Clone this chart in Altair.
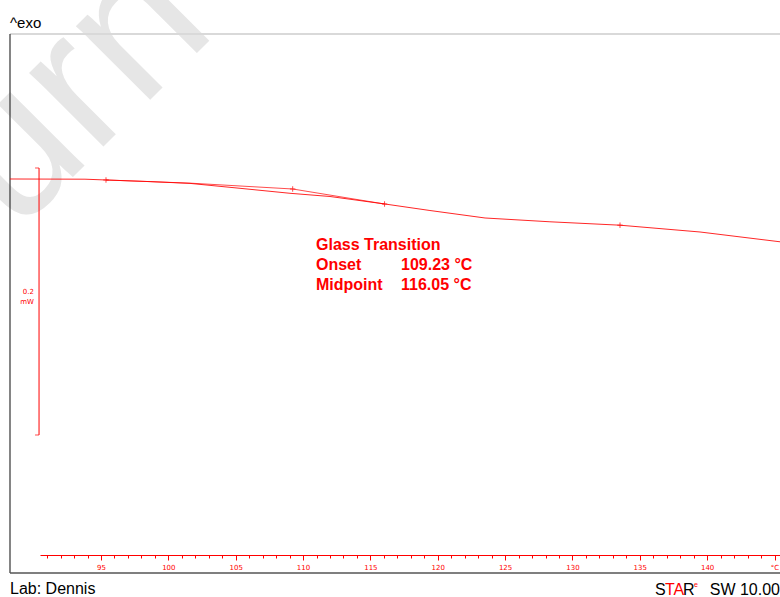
import altair as alt
import pandas as pd

# Measured DSC heating curve: temperature (°C) and heat flow (mW, exo up)
temp_c = [88.24, 93.81, 95.37, 98.64, 101.61, 105.32, 109.03, 112.00,
          116.08, 119.42, 123.51, 128.33, 133.53, 139.47, 145.41]
heat_flow_mw = [0.0, -0.00015, -0.00075, -0.00195, -0.0033, -0.00697, -0.01071, -0.01311,
                -0.01873, -0.0236, -0.02921, -0.03206, -0.03461, -0.0397, -0.04704]

# Extrapolated baseline up to the onset, then the inflectional tangent to the midpoint
tangent_temp_c = [95.37, 101.61, 109.23, 116.05]
tangent_mw = [-0.00075, -0.0031, -0.00749, -0.01873]

# Evaluation limits, onset and midpoint markers
marker_temp_c = [95.37, 109.23, 116.05, 133.53]
marker_mw = [-0.00075, -0.00749, -0.01873, -0.03461]

# Glass transition results
onset_c = 109.23
midpoint_c = 116.05

# Vertical scale bar
scale_bar_temp_c = 90.40
scale_bar_top_mw = 0.00824
scale_bar_span_mw = 0.2

# Temperature axis: a tick every degree, a label every five
tick_values = list(range(91, 146))
label_values = [95, 100, 105, 110, 115, 120, 125, 130, 135, 140, 145]
label_texts = ["95", "100", "105", "110", "115", "120", "125", "130", "135", "140", "°C"]

RED = "#ff0000"
FONT = "Liberation Sans"

curve_df = pd.DataFrame({"temp": temp_c, "mw": heat_flow_mw})
tangent_df = pd.DataFrame({"temp": tangent_temp_c, "mw": tangent_mw})
marker_df = pd.DataFrame({"temp": marker_temp_c, "mw": marker_mw})
bar_df = pd.DataFrame({
    "temp": [scale_bar_temp_c],
    "top": [scale_bar_top_mw],
    "bottom": [scale_bar_top_mw - scale_bar_span_mw],
})

label_expr = " : ".join(
    f"datum.value == {v} ? '{t}'" for v, t in zip(label_values, label_texts)
) + " : ''"

x_scale = alt.Scale(domain=[90.471, 145.408], nice=False, zero=False)
y_scale = alt.Scale(domain=[-0.28165, 0.10861], nice=False, zero=False)

x_axis = alt.Axis(
    values=tick_values,
    labelExpr=label_expr,
    title=None,
    grid=False,
    domainColor=RED,
    domainWidth=1,
    tickColor=RED,
    tickWidth=1,
    tickSize={"condition": {"test": "datum.value % 5 === 0", "value": 5}, "value": 3},
    labelColor=RED,
    labelFont="DejaVu Sans",
    labelFontSize=7,
    labelPadding=3,
    labelFlush=False,
    labelOverlap=False,
)


def xenc(field="temp"):
    return alt.X(f"{field}:Q", scale=x_scale, axis=x_axis)


def yenc(field="mw"):
    return alt.Y(f"{field}:Q", scale=y_scale, axis=None)


one_row = alt.Data(values=[{}])


def label(text, x, y, size, color="black", weight="normal", align="left",
          baseline="alphabetic", angle=0, font=FONT):
    props = dict(text=text, fontSize=size, color=color, fontWeight=weight,
                 align=align, baseline=baseline, font=font)
    if angle:
        props["angle"] = angle
    return alt.Chart(one_row).mark_text(**props).encode(
        x=alt.value(x), y=alt.value(y)
    )


# Watermark in the upper-left corner
watermark = label("urn", -24, 200, 198, color="#e6e6e6", angle=315)

# Frame around the plot
frame_top = alt.Chart(one_row).mark_rule(color="#d9d9d9", strokeWidth=2).encode(
    x=alt.value(-30), x2=alt.value(740), y=alt.value(0)
)
frame_left = alt.Chart(one_row).mark_rule(color="#333333", strokeWidth=1.2).encode(
    x=alt.value(-30), y=alt.value(0), y2=alt.value(539)
)
frame_bottom = alt.Chart(one_row).mark_rule(color="#555555", strokeWidth=1.5).encode(
    x=alt.value(-30), x2=alt.value(740), y=alt.value(539)
)

curve = alt.Chart(curve_df).mark_line(color=RED, strokeWidth=1, opacity=0.85, clip=False).encode(
    x=xenc(), y=yenc(), order="temp:Q"
)
tangent = alt.Chart(tangent_df).mark_line(color=RED, strokeWidth=1, opacity=0.7, clip=False).encode(
    x=xenc(), y=yenc(), order="temp:Q"
)
markers = alt.Chart(marker_df).mark_point(
    shape="M-1,0H1M0,-1V1", size=30, color=RED, strokeWidth=1, filled=False
).encode(x=xenc(), y=yenc())

scale_bar = alt.Chart(bar_df).mark_rule(color=RED, strokeWidth=1, clip=False).encode(
    x=xenc(), y=yenc("top"), y2="bottom:Q"
)
bar_cap_top = alt.Chart(bar_df).mark_tick(
    color=RED, orient="horizontal", size=4, thickness=1, xOffset=-2
).encode(x=xenc(), y=yenc("top"))
bar_cap_bottom = alt.Chart(bar_df).mark_tick(
    color=RED, orient="horizontal", size=4, thickness=1, xOffset=-2
).encode(x=xenc(), y=yenc("bottom"))

texts = [
    label("^exo", -30, -6, 15),
    label("0.2", -6, 258, 7, color=RED, align="right", baseline="middle", font="DejaVu Sans"),
    label("mW", -6, 268, 7, color=RED, align="right", baseline="middle", font="DejaVu Sans"),
    label("Glass Transition", 276, 216, 16, color=RED, weight="bold"),
    label("Onset", 276, 236, 16, color=RED, weight="bold"),
    label(f"{onset_c:.2f} °C", 361, 236, 16, color=RED, weight="bold"),
    label("Midpoint", 276, 256, 16, color=RED, weight="bold"),
    label(f"{midpoint_c:.2f} °C", 361, 256, 16, color=RED, weight="bold"),
    label("Lab: Dennis", -30, 555, 16, baseline="middle"),
    label("S", 615, 561, 16),
    label("TA", 625, 561, 16, color=RED),
    label("R", 643, 561, 16),
    label("e", 654, 553, 7, color=RED),
    label("SW 10.00", 740, 561, 16, align="right"),
]

chart = alt.layer(
    watermark, frame_top, frame_left, frame_bottom,
    curve, tangent, markers, scale_bar, bar_cap_top, bar_cap_bottom,
    *texts,
).properties(
    width=740,
    height=521,
    padding={"left": 40, "top": 34, "right": 0, "bottom": 42},
    autosize="none",
    background="white",
).configure_view(strokeWidth=0)

chart.save("out.html", embed_options={"renderer": "svg", "actions": False})
